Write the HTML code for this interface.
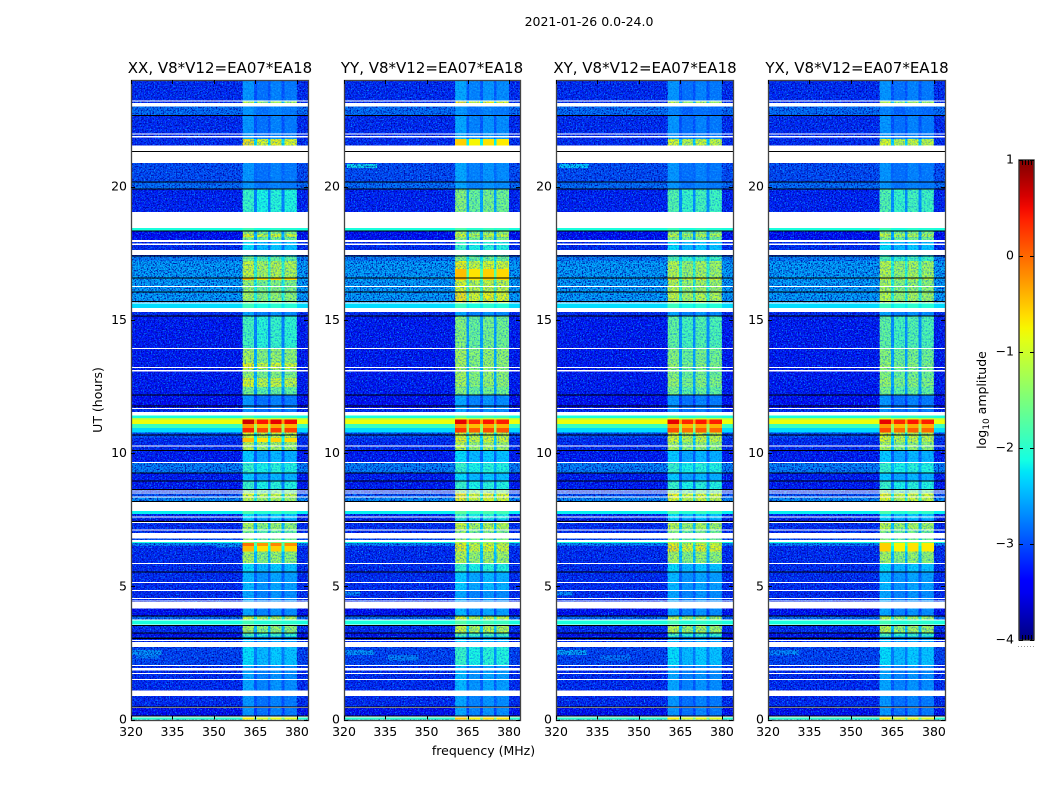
<!DOCTYPE html>
<html lang="en">
<head>
<meta charset="utf-8">
<title>2021-01-26 0.0-24.0</title>
<style>
html,body{margin:0;padding:0;background:#fff;}
svg{display:block;}
text{font-family:"DejaVu Sans","Liberation Sans",sans-serif;fill:#000;}
.tick{font-size:12.5px;}
.title{font-size:15px;}
.label{font-size:12.5px;}
</style>
</head>
<body>
<svg id="figure" xmlns="http://www.w3.org/2000/svg" width="1050" height="800" viewBox="0 0 1050 800">
  <defs>
    <filter id="speck-light" x="0" y="0" width="100%" height="100%" color-interpolation-filters="sRGB">
      <feTurbulence type="fractalNoise" baseFrequency="0.72" numOctaves="2" seed="4"/>
      <feColorMatrix type="matrix" values="0 0 0 0 0.02  0 0 0 0 0.62  0 0 0 0 1  3 0 0 0 -1.4"/>
    </filter>
    <filter id="speck-dark" x="0" y="0" width="100%" height="100%" color-interpolation-filters="sRGB">
      <feTurbulence type="fractalNoise" baseFrequency="0.68" numOctaves="2" seed="11"/>
      <feColorMatrix type="matrix" values="0 0 0 0 0  0 0 0 0 0  0 0 0 0 0.62  0 3 0 0 -1.3"/>
    </filter>
    <filter id="band-light" x="0" y="0" width="100%" height="100%" color-interpolation-filters="sRGB">
      <feTurbulence type="fractalNoise" baseFrequency="0.6" numOctaves="2" seed="7"/>
      <feColorMatrix type="matrix" values="0 0 0 0 0.1  0 0 0 0 0.75  0 0 0 0 1  1.6 0 0 0 -0.74"/>
    </filter>
    <filter id="band-dark" x="0" y="0" width="100%" height="100%" color-interpolation-filters="sRGB">
      <feTurbulence type="fractalNoise" baseFrequency="0.62" numOctaves="2" seed="23"/>
      <feColorMatrix type="matrix" values="0 0 0 0 0  0 0 0 0 0.35  0 0 0 0 0.9  0 1.8 0 0 -0.82"/>
    </filter>
    <linearGradient id="jet-gradient" x1="0" y1="1" x2="0" y2="0"></linearGradient>
  </defs>
  <text x="589" y="26" text-anchor="middle" class="label">2021-01-26 0.0-24.0</text>
  <text x="220" y="73" text-anchor="middle" class="title">XX, V8*V12=EA07*EA18</text>
  <text x="432" y="73" text-anchor="middle" class="title">YY, V8*V12=EA07*EA18</text>
  <text x="645" y="73" text-anchor="middle" class="title">XY, V8*V12=EA07*EA18</text>
  <text x="857" y="73" text-anchor="middle" class="title">YX, V8*V12=EA07*EA18</text>
  <text transform="translate(102,400) rotate(-90)" text-anchor="middle" class="label">UT (hours)</text>
  <text x="483.5" y="755" text-anchor="middle" class="label">frequency (MHz)</text>
  <text transform="translate(986,400) rotate(-90)" text-anchor="middle" class="label">log<tspan font-size="9" dy="3">10</tspan><tspan dy="-3"> amplitude</tspan></text>
  <g id="panels"></g>
  <g id="colorbar"></g>
</svg>
<script>
// ---- axis ticks ----
const hourTicks = [0, 5, 10, 15, 20];
const freqTicks = [320, 335, 350, 365, 380];
const colorTicks = [1, 0, -1, -2, -3, -4];
const colorTickLabels = ['1', '0', '\u22121', '\u22122', '\u22123', '\u22124'];

// ---- passband structure (MHz) ----
const subbandStart = [360.4, 365.5, 370.5, 375.5];
const subbandEnd = [364.5, 369.5, 374.5, 380.0];
const subbandOffset = [0.15, -0.05, 0.05, 0.0];

// ---- time rows: top edge in UT hours, log10 amplitude levels ----
const rowTop = [24.00,23.24,23.13,23.00,22.68,21.89,21.78,21.54,20.88,20.19,19.93,19.05,18.45,18.35,18.23,18.10,17.99,17.39,17.21,16.90,16.58,16.49,16.07,15.63,15.29,15.17,13.93,13.38,13.15,12.81,12.48,12.19,11.68,11.54,11.41,11.31,11.26,11.09,10.94,10.78,10.57,10.42,10.12,9.65,9.27,8.97,8.65,8.51,8.36,8.21,7.82,7.71,7.51,7.40,7.12,6.80,6.67,6.63,6.51,6.30,5.87,5.56,4.85,4.41,4.16,3.91,3.74,3.55,3.27,3.11,2.73,2.04,1.10,0.50,0.46,0.16,0.11];
const backgroundLevel = [-3.2,-3.2,-3.2,-2.8,-3.2,-3.2,-3.2,-3.2,-3.0,-2.8,-3.25,-3.2,-2.1,-3.4,-3.4,-3.4,-3.2,-2.7,-2.5,-2.5,-2.5,-2.5,-2.5,-2.3,-3.2,-3.3,-3.3,-3.3,-3.3,-3.3,-3.3,-3.4,-3.2,-3.2,-2.1,-1.2,-0.8,-1.9,-2.3,-3.0,-3.2,-3.2,-3.3,-2.7,-3.3,-3.3,-3.2,-3.0,-2.6,-3.2,-2.2,-3.2,-3.7,-3.2,-3.2,-3.0,-2.1,-2.7,-3.2,-3.2,-3.2,-3.2,-3.2,-3.2,-3.4,-2.8,-2.1,-3.2,-3.5,-3.2,-3.05,-3.2,-3.2,-3.3,-3.4,-3.2,-2.0];
const bandXX = [-2.8,-1.2,-2.8,-2.8,-2.8,-2.7,-0.8,-2.8,-2.8,-2.8,-2.05,-2.05,-2.05,-1.4,-0.9,-1.5,-2.4,-1.6,-1.1,-1.1,-0.6,-1.4,-1.3,-2.05,-2.7,-1.95,-1.3,-0.9,-1.4,-1.0,-1.6,-2.8,-2.8,-2.6,-2.0,-1.1,0.5,-0.4,0.2,-1.0,-0.6,-1.2,-2.5,-2.05,-2.5,-2.05,-1.5,-1.0,-1.2,-1.2,-1.95,-2.4,-2.8,-1.3,-1.6,-1.5,-1.5,-0.2,-0.6,-1.3,-2.4,-2.6,-2.7,-2.7,-2.7,-1.1,-2.0,-1.3,-1.95,-2.6,-2.4,-2.7,-2.8,-2.6,-2.8,-2.8,-0.9];
const bandYY = [-2.7,-0.8,-2.7,-2.8,-2.7,-2.6,-0.7,-2.7,-2.7,-2.7,-1.5,-1.5,-1.95,-1.3,-1.0,-1.4,-2.05,-1.5,-0.9,-0.6,-0.6,-1.0,-0.8,-2.05,-2.7,-1.5,-1.3,-1.3,-1.3,-1.3,-1.5,-2.7,-2.7,-2.6,-1.9,-1.1,0.4,-0.4,0.1,-1.0,-0.9,-1.2,-2.4,-2.05,-2.4,-2.05,-1.4,-0.8,-0.9,-1.1,-1.85,-2.05,-2.7,-1.1,-1.4,-1.4,-1.4,-0.9,-0.9,-1.2,-2.05,-2.5,-2.7,-2.7,-2.6,-1.0,-1.9,-1.1,-1.85,-2.5,-2.05,-2.6,-2.7,-2.6,-2.7,-2.7,-0.7];
const bandXY = [-2.8,-1.2,-2.8,-2.9,-2.8,-2.7,-1.0,-2.8,-2.8,-2.8,-1.85,-1.85,-2.05,-1.4,-1.1,-1.5,-2.4,-1.85,-1.2,-1.2,-0.8,-1.2,-1.1,-2.05,-2.7,-1.75,-1.5,-1.4,-1.5,-1.4,-1.6,-2.8,-2.8,-2.6,-2.0,-1.1,0.4,-0.4,0.0,-1.0,-1.0,-1.3,-2.5,-2.05,-2.5,-2.05,-1.5,-0.9,-1.0,-1.2,-1.95,-2.4,-2.8,-1.2,-1.5,-1.5,-1.5,-0.9,-0.8,-1.3,-2.4,-2.6,-2.7,-2.7,-2.7,-1.2,-2.0,-1.2,-1.95,-2.6,-2.4,-2.7,-2.8,-2.6,-2.8,-2.8,-0.9];
const bandYX = [-2.8,-1.2,-2.8,-2.9,-2.8,-2.7,-1.0,-2.8,-2.8,-2.8,-1.85,-1.85,-2.05,-1.4,-1.1,-1.5,-2.4,-1.85,-1.2,-1.2,-1.0,-1.3,-1.2,-2.05,-2.7,-1.75,-1.5,-1.4,-1.5,-1.4,-1.6,-2.8,-2.8,-2.6,-2.0,-1.1,0.4,-0.4,0.0,-1.0,-1.0,-1.3,-2.5,-2.05,-2.5,-2.05,-1.5,-0.9,-1.0,-1.2,-1.95,-2.4,-2.8,-1.2,-1.5,-1.5,-1.5,-0.7,-0.7,-1.3,-2.4,-2.6,-2.7,-2.7,-2.7,-1.2,-2.0,-1.2,-1.95,-2.6,-2.4,-2.7,-2.8,-2.6,-2.8,-2.8,-0.9];

// ---- low-frequency features: panel index, hours, MHz, level ----
const featurePanel = [0,1,2,3,1,2,1,2,0,0,1,2,3];
const featureTop = [2.62,2.62,2.62,2.62,2.42,2.42,20.85,20.85,2.42,6.60,4.80,4.80,2.62];
const featureBottom = [2.42,2.42,2.42,2.42,2.22,2.22,20.70,20.70,2.30,6.45,4.65,4.65,2.40];
const featureFreqStart = [320,320,320,320,336,336,321,321,322,351,320,320,320];
const featureFreqEnd = [331,331,331,331,347,347,332,332,330,360,326,326,329];
const featureLevel = [-2.6,-2.6,-2.5,-2.6,-2.7,-2.8,-2.2,-2.3,-2.7,-2.6,-2.6,-2.6,-2.7];

// ---- flagged data: white gaps [top, bottom] hours and black lines ----
const gapTop = [23.24,23.13,21.99,21.89,21.54,21.31,19.05,17.99,17.86,17.62,16.27,15.66,15.45,13.95,13.23,13.11,11.70,11.54,10.29,9.67,8.59,8.52,8.37,8.17,7.62,7.41,7.13,7.01,6.73,5.88,5.16,4.86,4.57,4.47,4.41,3.75,3.56,2.99,2.91,2.05,1.94,1.75,1.52,1.10,0.47,0.12];
const gapBottom = [23.19,23.00,21.96,21.85,21.33,20.88,18.45,17.93,17.80,17.43,16.23,15.63,15.29,13.91,13.19,13.07,11.66,11.41,10.25,9.63,8.57,8.50,8.35,7.82,7.59,7.38,7.10,6.80,6.67,5.85,5.13,4.83,4.54,4.44,4.16,3.72,3.53,2.96,2.73,2.02,1.85,1.72,1.49,0.89,0.44,0.09];
const blackLines = [22.68,21.33,20.19,19.93,18.35,17.42,16.58,16.07,15.70,15.17,12.19,11.78,10.69,10.12,9.27,8.97,8.65,8.21,7.45,5.56,3.91,3.55,3.27,3.09,3.06,0.50,0.16];

const panelNames = ['xx', 'yy', 'xy', 'yx'];
const panelLeft = [131, 344, 556, 768];
const panelWidth = [177, 176, 177, 177];
const panelBands = [bandXX, bandYY, bandXY, bandYX];

const NS = 'http://www.w3.org/2000/svg';
const FREQ_MIN = 320, FREQ_MAX = 384;
const PLOT_TOP = 80, PLOT_BOTTOM = 719.6;
const LEVEL_MIN = -4, LEVEL_MAX = 1;

function hourToY(h) { return PLOT_BOTTOM - (h / 24) * (PLOT_BOTTOM - PLOT_TOP); }
function freqToX(f, left, width) { return left + (f - FREQ_MIN) / (FREQ_MAX - FREQ_MIN) * width; }
function levelToY(v) { return 160 + (LEVEL_MAX - v) / (LEVEL_MAX - LEVEL_MIN) * 480; }

function seg(t, pts) {
  for (let i = 1; i < pts.length; i++) {
    if (t <= pts[i][0]) {
      const a = pts[i - 1], b = pts[i];
      return a[1] + (b[1] - a[1]) * (t - a[0]) / (b[0] - a[0]);
    }
  }
  return pts[pts.length - 1][1];
}
function jet(t) {
  t = Math.max(0, Math.min(1, t));
  const r = seg(t, [[0,0],[0.35,0],[0.66,1],[0.89,1],[1,0.5]]);
  const g = seg(t, [[0,0],[0.125,0],[0.375,1],[0.64,1],[0.91,0],[1,0]]);
  const b = seg(t, [[0,0.5],[0.11,1],[0.34,1],[0.65,0],[1,0]]);
  return 'rgb(' + Math.round(r * 255) + ',' + Math.round(g * 255) + ',' + Math.round(b * 255) + ')';
}
function levelColor(v) { return jet((v - LEVEL_MIN) / (LEVEL_MAX - LEVEL_MIN)); }

function rectEl(parent, x, y, w, h, fill) {
  const el = document.createElementNS(NS, 'rect');
  el.setAttribute('x', x);
  el.setAttribute('y', y);
  el.setAttribute('width', w);
  el.setAttribute('height', h);
  el.setAttribute('fill', fill);
  el.setAttribute('shape-rendering', 'crispEdges');
  parent.appendChild(el);
  return el;
}
function lineEl(parent, x1, y1, x2, y2, color) {
  const el = document.createElementNS(NS, 'line');
  el.setAttribute('x1', x1);
  el.setAttribute('y1', y1);
  el.setAttribute('x2', x2);
  el.setAttribute('y2', y2);
  el.setAttribute('stroke', color);
  el.setAttribute('stroke-width', 1);
  el.setAttribute('shape-rendering', 'crispEdges');
  parent.appendChild(el);
  return el;
}
function textEl(parent, x, y, str, anchor) {
  const el = document.createElementNS(NS, 'text');
  el.setAttribute('x', x);
  el.setAttribute('y', y);
  el.setAttribute('text-anchor', anchor);
  el.setAttribute('class', 'tick');
  el.textContent = str;
  parent.appendChild(el);
  return el;
}

const panelsRoot = document.getElementById('panels');

function drawBackground(g, r, left, width) {
  const bottom = r + 1 < rowTop.length ? rowTop[r + 1] : 0;
  const y0 = hourToY(rowTop[r]), y1 = hourToY(bottom);
  const bgCell = rectEl(g, left, y0, width, y1 - y0, levelColor(backgroundLevel[r]));
  
  
}
function drawBand(g, r, left, width, bands) {
  const bottom = r + 1 < rowTop.length ? rowTop[r + 1] : 0;
  const y0 = hourToY(rowTop[r]), y1 = hourToY(bottom);
  const bg = backgroundLevel[r];
  const gapStartX = freqToX(subbandStart[0], left, width);
  const gapEndX = freqToX(subbandEnd[subbandEnd.length - 1], left, width);
  const gapCell = rectEl(g, gapStartX, y0, gapEndX - gapStartX, y1 - y0, levelColor(bg + (bands[r] - bg) * 0.4));
  
  
  subbandStart.forEach(function (fs, s) {
    const x0 = freqToX(fs, left, width), x1 = freqToX(subbandEnd[s], left, width);
    const cell = rectEl(g, x0, y0, x1 - x0, y1 - y0, levelColor(bands[r] + subbandOffset[s]));
    
    
  });
}

panelNames.forEach(function (name, p) {
  const left = panelLeft[p];
  const width = panelWidth[p];
  const bands = panelBands[p];
  const g = document.createElementNS(NS, 'g');
  
  
  panelsRoot.appendChild(g);

  rowTop.forEach(function (top, r) {
    drawBackground(g, r, left, width);
    drawBand(g, r, left, width, bands);
  });

  // localised low-frequency features
  featurePanel.forEach(function (fp, i) {
    if (fp !== p) return;
    const x0 = freqToX(featureFreqStart[i], left, width), x1 = freqToX(featureFreqEnd[i], left, width);
    const y0 = hourToY(featureTop[i]), y1 = hourToY(featureBottom[i]);
    const cell = rectEl(g, x0, y0, x1 - x0, y1 - y0, levelColor(featureLevel[i]));
    
    
  });

  // speckle texture: strong off-band, weaker in the passband
  const bandX0 = freqToX(subbandStart[0], left, width);
  const bandX1 = freqToX(subbandEnd[3], left, width);
  const plotH = PLOT_BOTTOM - PLOT_TOP;
  const offL1 = rectEl(g, left, PLOT_TOP, bandX0 - left, plotH, '#000');
  offL1.setAttribute('filter', 'url(#speck-light)');
  
  
  const offL2 = rectEl(g, left, PLOT_TOP, bandX0 - left, plotH, '#000');
  offL2.setAttribute('filter', 'url(#speck-dark)');
  
  
  const offR1 = rectEl(g, bandX1, PLOT_TOP, left + width - bandX1, plotH, '#000');
  offR1.setAttribute('filter', 'url(#speck-light)');
  
  
  const offR2 = rectEl(g, bandX1, PLOT_TOP, left + width - bandX1, plotH, '#000');
  offR2.setAttribute('filter', 'url(#speck-dark)');
  
  
  const inBand1 = rectEl(g, bandX0, PLOT_TOP, bandX1 - bandX0, plotH, '#000');
  inBand1.setAttribute('filter', 'url(#band-light)');
  
  
  const inBand2 = rectEl(g, bandX0, PLOT_TOP, bandX1 - bandX0, plotH, '#000');
  inBand2.setAttribute('filter', 'url(#band-dark)');
  
  

  // strong rows stay smooth: redraw them over the texture
  rowTop.forEach(function (top, r) {
    if (backgroundLevel[r] >= -2.35) {
      drawBackground(g, r, left, width);
      drawBand(g, r, left, width, bands);
    } else if (bands[r] >= -0.7) {
      drawBand(g, r, left, width, bands);
    }
  });

  // flagged gaps and lines
  gapTop.forEach(function (t, i) {
    const y0 = hourToY(t), y1 = hourToY(gapBottom[i]);
    const gap = rectEl(g, left, y0, width, Math.max(1, y1 - y0), '#fff');
    
    
  });
  blackLines.forEach(function (t) {
    const bar = rectEl(g, left, hourToY(t), width, 1, '#000');
    
    
  });

  // frame
  const frame = document.createElementNS(NS, 'rect');
  frame.setAttribute('x', left + 0.5);
  frame.setAttribute('y', PLOT_TOP + 0.5);
  frame.setAttribute('width', width);
  frame.setAttribute('height', 640);
  frame.setAttribute('fill', 'none');
  frame.setAttribute('stroke', '#444');
  frame.setAttribute('stroke-width', 1.3);
  
  
  g.appendChild(frame);

  // x ticks
  freqTicks.forEach(function (f) {
    const x = Math.round(freqToX(f, left, width)) + 0.5;
    const bottomTick = lineEl(g, x, PLOT_BOTTOM, x, PLOT_BOTTOM - 4, '#000');
    
    
    const topTick = lineEl(g, x, PLOT_TOP, x, PLOT_TOP + 4, '#000');
    
    
    const label = textEl(g, freqToX(f, left, width), 736, String(f), 'middle');
    
    
  });

  // y ticks
  hourTicks.forEach(function (h) {
    const y = Math.round(hourToY(h)) + 0.5;
    const leftTick = lineEl(g, left, y, left + 4, y, '#000');
    
    
    const rightTick = lineEl(g, left + width - 4, y, left + width, y, '#000');
    
    
    const label = textEl(g, left - 4, hourToY(h) + 4, String(h), 'end');
    
    
  });
});

// colorbar
const grad = document.getElementById('jet-gradient');
for (let i = 0; i <= 40; i++) {
  const stop = document.createElementNS(NS, 'stop');
  stop.setAttribute('offset', (i / 40 * 100) + '%');
  stop.setAttribute('stop-color', jet(i / 40));
  grad.appendChild(stop);
}
const cb = document.getElementById('colorbar');
const cbBar = rectEl(cb, 1019, 160, 15, 480, 'url(#jet-gradient)');


const cbFrame = document.createElementNS(NS, 'rect');
cbFrame.setAttribute('x', 1019);
cbFrame.setAttribute('y', 160);
cbFrame.setAttribute('width', 15);
cbFrame.setAttribute('height', 480);
cbFrame.setAttribute('fill', 'none');
cbFrame.setAttribute('stroke', '#333');
cbFrame.setAttribute('stroke-width', 1.4);


cb.appendChild(cbFrame);
colorTicks.forEach(function (v, i) {
  const y = Math.round(levelToY(v)) + 0.5;
  const tl = lineEl(cb, 1019, y, 1023, y, '#000');
  
  
  const tr = lineEl(cb, 1030, y, 1034, y, '#000');
  
  
  const lab = textEl(cb, 1014, levelToY(v) + 3.5, colorTickLabels[i], 'end');
  
  
});
[1022, 1025, 1028, 1031].forEach(function (x) {
  const topMinor = lineEl(cb, x + 0.5, 160, x + 0.5, 165, '#000');
  
  
  const bottomMinor = lineEl(cb, x + 0.5, 640, x + 0.5, 635, '#000');
  
  
});
[1018, 1021, 1024, 1027, 1030, 1033].forEach(function (x) {
  const dot = rectEl(cb, x, 646, 1, 1, '#999');
  
  
});
</script>
</body>
</html>
